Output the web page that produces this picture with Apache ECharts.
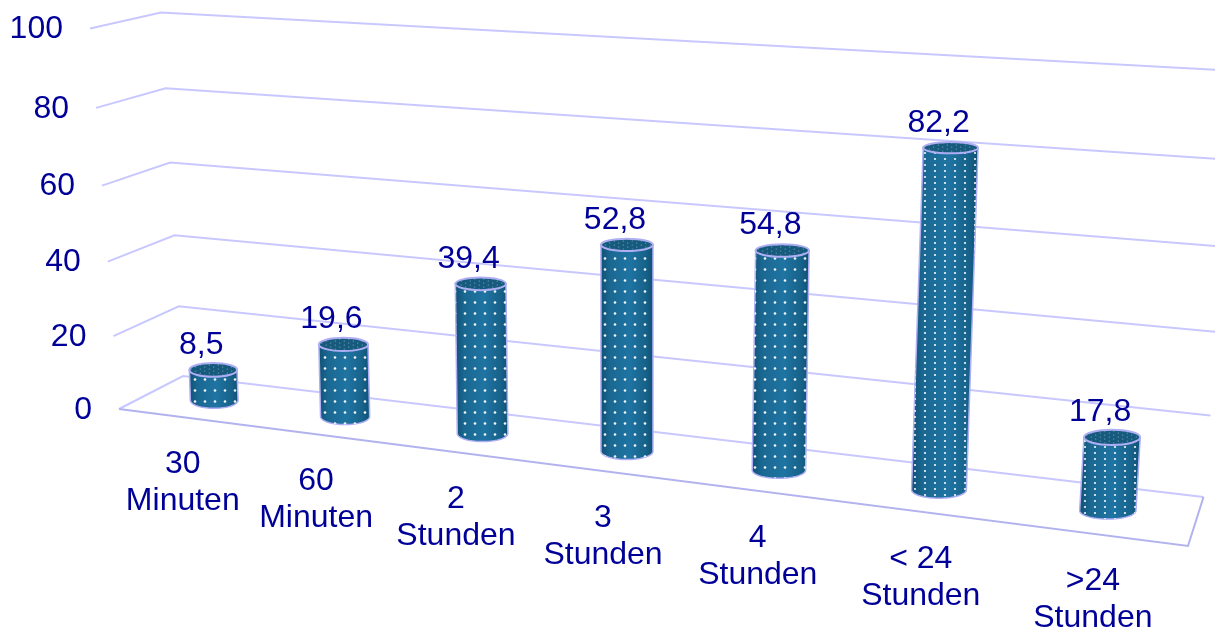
<!DOCTYPE html>
<html><head><meta charset="utf-8">
<style>html,body{margin:0;padding:0;background:#fff}#c{width:1215px;height:628px}</style>
<script src="https://cdn.jsdelivr.net/npm/echarts@6/dist/echarts.min.js"></script>
</head><body><div id="c"></div>
<script>
var categories = ['30\nMinuten','60\nMinuten','2\nStunden','3\nStunden','4\nStunden','< 24\nStunden','>24\nStunden'];
var values = [8.5,19.6,39.4,52.8,54.8,82.2,17.8];
var yTicks = [0,20,40,60,80,100];

// perspective box (pixel corners of the drawn 3-D frame)
var FL0=[119,409],FR0=[1188,546],BL0=[183,376],BR0=[1203.5,497];
var FL1=[90,28.5],FR1=[1228,100],BL1=[161,12.5],BR1=[1240,71];
var KU=0.195,KV=0.055;
function warpU(u){return u/(1+KU*(1-u));}
function lerp(a,b,t){return [a[0]+(b[0]-a[0])*t,a[1]+(b[1]-a[1])*t];}
function project(u,v,d){
  var uw=warpU(u), vw=v/(1+KV*(1-v));
  var f=lerp(lerp(FL0,FR0,uw),lerp(FL1,FR1,uw),vw);
  var b=lerp(lerp(BL0,BR0,uw),lerp(BL1,BR1,uw),vw);
  return lerp(f,b,d);
}
function norm(p,cs){return [(p[0]-cs.x)/cs.width,(cs.y+cs.height-p[1])/cs.height];}

function dots(w,h,r,stagger){
  var cv=document.createElement('canvas');cv.width=w;cv.height=h;
  var g=cv.getContext('2d');g.fillStyle='rgba(255,255,255,0.95)';
  var pts=stagger?[[w*0.25,h*0.25],[w*0.75,h*0.75]]:[[w*0.5,h*0.5]];
  pts.forEach(function(q){g.beginPath();g.arc(q[0],q[1],r,0,Math.PI*2);g.fill();});
  return cv;
}
var bodyDots=dots(10,11,1.3,false), denseDots=dots(10,6,1.1,false), topDots=dots(9,4,0.6,true);
var INK='#000099', STROKE='#aeaef4', FONT='32px "Liberation Sans"';

function arc(c,rx,ry,a0,a1,n){var o=[];for(var i=0;i<=n;i++){var a=a0+(a1-a0)*i/n;o.push([c[0]+rx*Math.cos(a),c[1]+ry*Math.sin(a)]);}return o;}

var chart=echarts.init(document.getElementById('c'),null,{renderer:'canvas'});
chart.setOption({
  animation:false,
  backgroundColor:'#fff',
  grid:{left:0,right:0,top:0,bottom:0},
  xAxis:{type:'category',data:categories,show:false},
  yAxis:{type:'value',min:0,max:100,interval:20,show:false},
  series:[
   {type:'custom',coordinateSystem:'cartesian2d',silent:true,z:1,
    data:yTicks.map(function(t){return [0,t];}),
    renderItem:function(params,api){
      var cs=params.coordSys, val=api.value(1);
      var v=norm(api.coord([0,val]),cs)[1];
      var kids=[{type:'polyline',shape:{points:[project(0,v,0),project(0,v,1),project(1,v,1)]},
        style:{fill:null,stroke:'#c8c8ff',lineWidth:2}},
        {type:'text',style:{text:String(val),x:project(0,v,0)[0]-27,y:project(0,v,0)[1]+1,align:'right',verticalAlign:'middle',
          fill:INK,font:FONT}}];
      if(val===0){kids.push({type:'polyline',shape:{points:[project(0,0,0),project(1,0,0),project(1,0,1)]},
        style:{fill:null,stroke:'#b2b2ee',lineWidth:2}});}
      return {type:'group',children:kids};
    }},
   {type:'custom',coordinateSystem:'cartesian2d',silent:true,z:2,
    encode:{x:0,y:1},
    data:values.map(function(v,i){return [i,v];}),
    renderItem:function(params,api){
      var cs=params.coordSys,i=api.value(0),val=api.value(1);
      var n=norm(api.coord([i,val]),cs),u=n[0],v=n[1];
      var b=project(u,0,0.5),t=project(u,v,0.5);
      var uw=warpU(u);
      t[0]=b[0]+v*(-12+13.5*uw+28.2*uw*uw);
      var rx=23.5+5*u,ry=(6.9+1.3*u)*(1-0.35*v);
      var pts=arc(b,rx,8+0.5*u,Math.PI,0,36);
      pts.unshift([t[0]-rx,t[1]]);pts.push([t[0]+rx,t[1]]);
      var grad={type:'linear',x:0,y:0,x2:1,y2:0,colorStops:[
        {offset:0,color:'#0f4f72'},{offset:0.18,color:'#1a6892'},{offset:0.55,color:'#1f74a2'},{offset:0.85,color:'#17628a'},{offset:1,color:'#0f4f72'}]};
      var base=project(u,0,0);
      return {type:'group',children:[
        {type:'polygon',shape:{points:pts},style:{fill:grad,stroke:STROKE,lineWidth:1.5}},
        {type:'polygon',shape:{points:pts},style:{fill:{image:u>0.7?denseDots:bodyDots,repeat:'repeat'},stroke:null}},
        {type:'ellipse',shape:{cx:t[0],cy:t[1],rx:rx,ry:ry},style:{fill:'#165a7e',stroke:STROKE,lineWidth:2}},
        {type:'ellipse',shape:{cx:t[0],cy:t[1],rx:rx-1,ry:ry-1},style:{fill:{image:topDots,repeat:'repeat'},opacity:0.55,stroke:null}},
        {type:'text',style:{text:String(val).replace('.',','),x:t[0]-12,y:t[1]-25,align:'center',verticalAlign:'middle',fill:INK,font:FONT}},
        {type:'text',style:{text:categories[i],x:base[0]-0.5-5*u,y:base[1]+65,align:'center',verticalAlign:'middle',lineHeight:37,fill:INK,font:FONT}}
      ]};
    }}
  ]
});
</script></body></html>
